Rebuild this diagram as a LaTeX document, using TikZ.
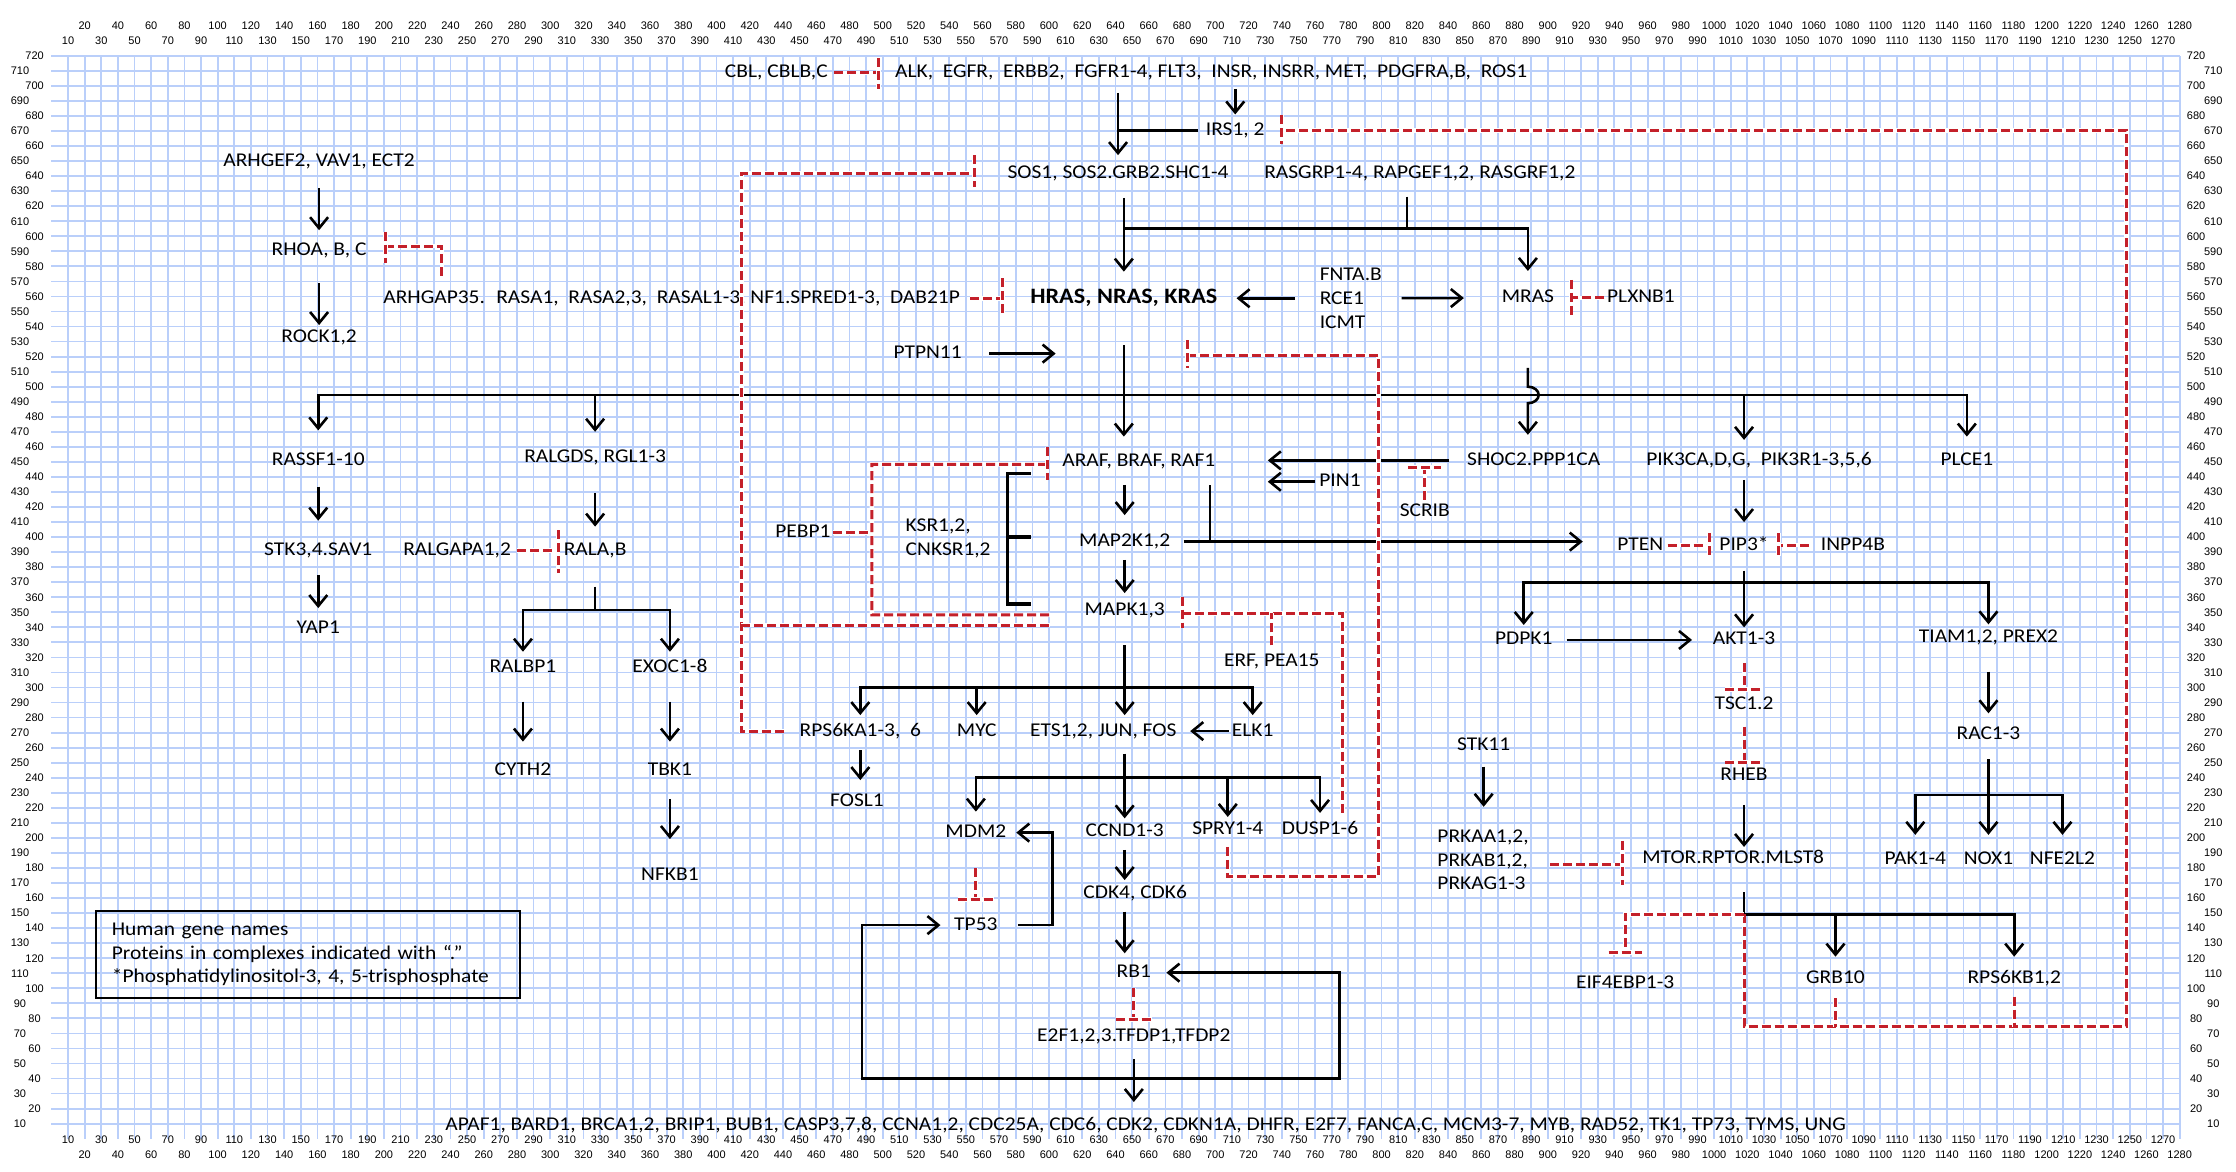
\documentclass[tikz,border=0pt]{standalone}
\usepackage{fontspec}
\setmainfont[FakeStretch=1.1]{Carlito}
\newfontfamily\axisfont{Liberation Sans}
\usetikzlibrary{arrows.meta,calc}

\definecolor{gridblue}{RGB}{186,207,250}
\definecolor{inhred}{RGB}{196,32,42}

\tikzset{
  gene/.style={font=\fontsize{19.5}{23.5}\selectfont, inner sep=0pt, text height=13pt, text depth=3pt},
  mgene/.style={font=\fontsize{19.5}{23.7}\selectfont, inner sep=0pt, align=left},
  bgene/.style={gene, font=\fontsize{22}{26}\selectfont\bfseries},
  axislbl/.style={font=\axisfont\fontsize{11}{13}\selectfont, inner sep=0pt},
  gridln/.style={draw=gridblue, line width=1.8pt},
  ln/.style={line width=2.6pt},
  act/.style={ln, -{Straight Barb[length=11pt,width=18pt]}},
  dact/.style={ln, {Straight Barb[length=11pt,width=18pt]}-{Straight Barb[length=11pt,width=18pt]}},
  brk/.style={line width=3.4pt},
  inh/.style={draw=inhred, line width=3pt, dash pattern=on 9pt off 4pt, preaction={draw=white, solid, line width=4.5pt}},
  legendbox/.style={mgene, draw, line width=2pt, inner xsep=16pt, text width=392pt, minimum height=87.7pt},
}

\begin{document}
\begin{tikzpicture}[x=1.6627pt,y=1.504pt]
\path[use as bounding box, fill=white] (-51.4pt,-33.3pt) rectangle (2184.6pt,1138.7pt);
% grid
\foreach \x in {10,20,...,1280} \draw[gridln] (\x,0) -- (\x,720);
\foreach \y in {10,20,...,720} \draw[gridln] (0,\y) -- (1280,\y);
\foreach \x in {20,40,...,1280} {\node[axislbl] at (\x,739.8) {\x}; \node[axislbl] at (\x,-10.8) {\x};}
\foreach \x in {10,30,...,1270} {\node[axislbl] at (\x,729.8) {\x}; \node[axislbl] at (\x,-0.9) {\x};}
\foreach \y in {20,40,...,720} {\node[axislbl] at (-10.1,\y) {\y}; \node[axislbl] at (1289.9,\y) {\y};}
\foreach \y in {10,30,...,710} {\node[axislbl] at (-18.9,\y) {\y}; \node[axislbl] at (1300.2,\y) {\y};}

% genes
\node[gene] (cbl) at (436,708.6) {CBL, CBLB,C};
\node[gene] (rtk) at (697.5,708.6) {ALK,~ EGFR,~ ERBB2,~ FGFR1-4, FLT3,~ INSR, INSRR, MET,~ PDGFRA,B,~ ROS1};
\node[gene] (irs) at (712,670.5) {IRS1, 2};
\node[gene] (sos) at (641.5,642) {SOS1, SOS2.GRB2.SHC1-4};
\node[gene] (rasgrp) at (823,642) {RASGRP1-4, RAPGEF1,2, RASGRF1,2};
\node[gene] (arhgef) at (161,649.6) {ARHGEF2, VAV1, ECT2};
\node[gene] (rhoa) at (161,590.4) {RHOA, B, C};
\node[gene] (rock) at (161,533) {ROCK1,2};
\node[gene] (arhgap) at (373,558.8) {ARHGAP35.~ RASA1,~ RASA2,3,~ RASAL1-3, NF1.SPRED1-3,~ DAB21P};
\node[bgene] (hras) at (645,558.8) {HRAS, NRAS, KRAS};
\node[mgene, anchor=west] (fnta) at (762.7,558.8) {FNTA.B\\RCE1\\ICMT};
\node[gene] (mras) at (888,559) {MRAS};
\node[gene] (plxnb) at (956,559) {PLXNB1};
\node[gene] (ptpn) at (527,522) {PTPN11};
\node[gene] (rassf) at (160.5,451) {RASSF1-10};
\node[gene] (ralgds) at (327,453) {RALGDS, RGL1-3};
\node[gene] (stk3) at (160.5,391) {STK3,4.SAV1};
\node[gene] (yap) at (160.5,339.5) {YAP1};
\node[gene] (ralgapa) at (244,391) {RALGAPA1,2};
\node[gene] (rala) at (327,391) {RALA,B};
\node[gene] (ralbp) at (283.6,313) {RALBP1};
\node[gene] (exoc) at (372,313) {EXOC1-8};
\node[gene] (cyth) at (283.6,245) {CYTH2};
\node[gene] (tbk) at (372,245) {TBK1};
\node[gene] (nfkb) at (372,175.3) {NFKB1};
\node[gene] (pebp) at (452,403) {PEBP1};
\node[mgene, anchor=west] (ksr) at (513.7,399) {KSR1,2,\\CNKSR1,2};
\node[gene] (araf) at (654,450) {ARAF, BRAF, RAF1};
\node[gene] (map2k) at (645.5,397) {MAP2K1,2};
\node[gene] (mapk) at (645.5,351.5) {MAPK1,3};
\node[gene] (shoc) at (891.5,451) {SHOC2.PPP1CA};
\node[gene] (pin1) at (775,436.8) {PIN1};
\node[gene] (scrib) at (826,417) {SCRIB};
\node[gene] (pik3) at (1027,451) {PIK3CA,D,G,~ PIK3R1-3,5,6};
\node[gene] (plce) at (1152,451) {PLCE1};
\node[gene] (pten) at (955.6,394.7) {PTEN};
\node[gene] (pip3) at (1018,394.7) {PIP3*};
\node[gene] (inpp) at (1083.5,394.7) {INPP4B};
\node[gene] (pdpk) at (885.5,331.6) {PDPK1};
\node[gene] (akt) at (1018,331.6) {AKT1-3};
\node[gene] (tiam) at (1165,333) {TIAM1,2, PREX2};
\node[gene] (erf) at (734,317) {ERF, PEA15};
\node[gene] (rps6ka) at (486.5,271) {RPS6KA1-3,~ 6};
\node[gene] (myc) at (556.5,271) {MYC};
\node[gene] (ets) at (632.6,271) {ETS1,2, JUN, FOS};
\node[gene] (elk) at (722.5,271) {ELK1};
\node[gene] (fosl) at (484.5,224) {FOSL1};
\node[gene] (mdm2) at (556,203.5) {MDM2};
\node[gene] (ccnd) at (645.5,204) {CCND1-3};
\node[gene] (spry) at (707.5,205.3) {SPRY1-4};
\node[gene] (dusp) at (763,205.3) {DUSP1-6};
\node[gene] (tp53) at (556,142) {TP53};
\node[gene] (cdk4) at (651.8,163.2) {CDK4, CDK6};
\node[gene] (rb1) at (651,110.4) {RB1};
\node[gene] (e2f) at (651,67.8) {E2F1,2,3.TFDP1,TFDP2};
\node[gene] (targets) at (658,9.1) {APAF1, BARD1, BRCA1,2, BRIP1, BUB1, CASP3,7,8, CCNA1,2, CDC25A, CDC6, CDK2, CDKN1A, DHFR, E2F7, FANCA,C, MCM3-7, MYB, RAD52, TK1, TP73, TYMS, UNG};
\node[gene] (tsc) at (1018,289) {TSC1.2};
\node[gene] (rheb) at (1018,241.2) {RHEB};
\node[gene] (mtor) at (1011.5,186.4) {MTOR.RPTOR.MLST8};
\node[gene] (stk11) at (861.4,261.3) {STK11};
\node[mgene, anchor=west] (prkaa) at (833.5,185.3) {PRKAA1,2,\\PRKAB1,2,\\PRKAG1-3};
\node[gene] (eif) at (946.5,103.3) {EIF4EBP1-3};
\node[gene] (grb10) at (1073,106.6) {GRB10};
\node[gene] (rps6kb) at (1180.5,106.6) {RPS6KB1,2};
\node[gene] (rac) at (1165,269) {RAC1-3};
\node[gene] (pak) at (1121,185.8) {PAK1-4};
\node[gene] (nox) at (1165,185.8) {NOX1};
\node[gene] (nfe) at (1209.5,185.8) {NFE2L2};
\node[legendbox] (legend) at (154.25,122.45) {Human gene names\\Proteins in complexes indicated with “.”\\{*}Phosphatidylinositol-3, 4, 5-trisphosphate};

% branch points
\coordinate (sosbus) at (645,605.3);
\coordinate (rasbus) at (645,494.5);
\coordinate (ralbus) at (327,351.5);
\coordinate (pipbus) at (1018,369.7);
\coordinate (mapkbus) at (645.5,300);
\coordinate (etsbus) at (645.5,240.3);
\coordinate (mtorbus) at (1018,149.2);
\coordinate (racbus) at (1165,228.5);
\coordinate (loopl) at (487.4,40.2);
\coordinate (loopr) at (774.7,40.2);
\coordinate (fbsos) at (415,341.5);
\coordinate (pebpc) at (493.5,348.2);
\coordinate (spryfb) at (798,174.2);
\coordinate (fbl) at (1018,74.5);
\coordinate (fbr) at (1248,74.5);

% activation
\draw[act, shorten <=20pt, shorten >=18pt] (sos |- rtk) -- (sos.center);
\draw[ln, shorten <=37pt] (irs.center) -- (irs -| sos);
\draw[act, shorten <=16pt, shorten >=15.8pt] (irs |- rtk) -- (irs.center);
\draw[act, shorten <=24.8pt, shorten >=26.6pt] (hras |- sos) -- (hras.center);
\draw[act, shorten >=27pt] (sosbus) -| (mras.center);
\draw[ln, shorten <=23.6pt] ($(rasgrp)+(-7.7,0)$) -- ($(rasgrp |- sosbus)+(-7.7,0)$);
\draw[act, shorten <=24.4pt, shorten >=112.7pt] (fnta.west) -- (hras.center);
\draw[act, shorten <=82pt, shorten >=64pt] (fnta.west) -- (mras.center);
\draw[act, shorten <=61.5pt, shorten >=68.2pt] (ptpn.center) -- (ptpn -| hras);
\draw[act, shorten <=46.8pt, shorten >=25.3pt] (hras.center) -- (hras |- araf);
\draw[act, shorten >=30pt] (rasbus) -| (rassf.center);
\draw[act, shorten >=23.8pt] (rasbus) -| (plce.center);
\draw[act, shorten >=25.6pt] (ralgds |- rasbus) -- (ralgds.center);
\draw[act, shorten >=20.5pt] (pip3 |- rasbus) -- (pip3 |- pik3);
\draw[act, shorten <=70pt, shorten >=25.6pt] (mras.center) -- ($(mras |- rasbus)+(0,5.5)$) arc[start angle=90, end angle=-90, x radius=6.5, y radius=5.5] -- (mras |- shoc);
\draw[act, shorten <=23pt, shorten >=26.5pt] (map2k |- araf) -- (map2k.center);
\draw[act, shorten <=18.3pt, shorten >=17pt] (map2k.center) -- (mapk.center);
\draw[act, shorten <=59pt, shorten >=57.5pt] (map2k.center) -- (map2k -| pten);
\draw[ln] ($(araf)+(42.7,-15.4)$) -- ($(araf |- map2k)+(42.7,0)$);
\draw[brk] (589,442.4) -| (575,355.5) -- (589,355.5);
\draw[brk] (575,400) -- (589,400);
\draw[act, shorten <=84.6pt, shorten >=129pt] (shoc.center) -- (shoc -| araf);
\draw[act, shorten <=25pt, shorten >=129pt] (pin1.center) -- (pin1 -| araf);
\draw[act, shorten <=19.5pt, shorten >=23pt] (pip3 |- pik3) -- (pip3.center);
\draw[ln, shorten <=25.6pt] (pip3.center) -- (pipbus);
\draw[act, shorten >=15pt] (pipbus) -| (pdpk.center);
\draw[act, shorten >=12.6pt] (pipbus) -- (akt.center);
\draw[act, shorten >=13.5pt] (pipbus) -| (tiam.center);
\draw[act, shorten <=43pt, shorten >=52pt] (pdpk.center) -- (akt.center);
\draw[ln, shorten <=35pt] (mapk.center) -- (mapkbus);
\draw[act, shorten >=16pt] (mapkbus) -| (rps6ka.center);
\draw[act, shorten >=16pt] (mapkbus) -| (elk.center);
\draw[act, shorten >=16pt] (mapkbus -| myc) -- (myc.center);
\draw[act, shorten >=16pt] (mapkbus) -- (mapkbus |- ets);
\draw[act, shorten <=19pt, shorten >=21.7pt] (rps6ka.center) -- (rps6ka |- fosl);
\draw[act, shorten <=24pt, shorten >=87pt] (elk.center) -- (ets.center);
\draw[ln, shorten <=22.5pt] (mapkbus |- ets) -- (etsbus);
\draw[act, shorten >=21pt] (etsbus) -| (mdm2.center);
\draw[act, shorten >=17pt] (etsbus) -| (dusp.center);
\draw[act, shorten >=13pt] (etsbus -| spry) -- (spry.center);
\draw[act, shorten >=13.5pt] (etsbus) -- (ccnd.center);
\draw[act, shorten <=18pt, shorten >=13.2pt] (ccnd.center) -- (ccnd |- cdk4);
\draw[act, shorten <=18.3pt, shorten >=19.4pt] (ccnd |- cdk4) -- (ccnd |- rb1);
\draw[act, shorten <=42.6pt, shorten >=40.4pt] (tp53.center) -- ++(46,0) |- (mdm2.center);
\draw[dact, shorten <=35.4pt, shorten >=32.6pt] (tp53.center) -| (loopl) -- (loopr) |- (rb1.center);
\draw[act, shorten <=22.5pt, shorten >=23pt] (e2f.center) -- (e2f |- targets);
\draw[act, shorten <=21pt, shorten >=53.2pt] (stk11.center) -- (stk11 |- prkaa);
\draw[act, shorten <=29pt, shorten >=11.4pt] (rheb.center) -- (rheb |- mtor);
\draw[ln, shorten <=34pt] (rheb |- mtor) -- (mtorbus);
\draw[act, shorten >=21.7pt] (mtorbus) -| (rps6kb.center);
\draw[act, shorten >=21.7pt] (mtorbus -| grb10) -- (grb10.center);
\draw[act, shorten <=33.8pt, shorten >=20.8pt] (tiam.center) -- (rac.center);
\draw[ln, shorten <=25.3pt] (rac.center) -- (racbus);
\draw[act, shorten >=24.4pt] (racbus) -| (pak.center);
\draw[act, shorten >=24.4pt] (racbus) -| (nfe.center);
\draw[act, shorten >=24.4pt] (racbus) -- (nox.center);
\draw[act, shorten <=26.5pt, shorten >=20.5pt] (arhgef.center) -- (rhoa.center);
\draw[act, shorten <=32.6pt, shorten >=12pt] (rhoa.center) -- (rock.center);
\draw[act, shorten <=26.3pt, shorten >=30pt] (rassf.center) -- (stk3.center);
\draw[act, shorten <=24.4pt, shorten >=20pt] (stk3.center) -- (yap.center);
\draw[act, shorten <=36pt, shorten >=24pt] (ralgds.center) -- (rala.center);
\draw[ln, shorten <=36pt] (rala.center) -- (ralbus);
\draw[act, shorten >=16.2pt] (ralbus) -| (ralbp.center);
\draw[act, shorten >=16.2pt] (ralbus) -| (exoc.center);
\draw[act, shorten <=33.7pt, shorten >=28.6pt] (ralbp.center) -- (cyth.center);
\draw[act, shorten <=33.7pt, shorten >=28.6pt] (exoc.center) -- (tbk.center);
\draw[act, shorten <=28.7pt, shorten >=36pt] (tbk.center) -- (nfkb.center);

% inhibition
\draw[inh, shorten <=57.7pt] (cbl.center) -- ($(rtk.west)+(-10,0)$);
\draw[inh] ($(rtk.west)+(-10,10)$) -- ++(0,-21);
\draw[inh] (mtorbus) -- (fbl) -- (fbr) |- ($(irs)+(28,0)$);
\draw[inh] ($(irs)+(28,10)$) -- ++(0,-19);
\draw[inh, shorten <=20pt] (grb10.center) -- (grb10 |- fbl);
\draw[inh, shorten <=18.2pt] (rps6kb.center) -- (rps6kb |- fbl);
\draw[inh] (mtorbus) -| ($(eif)+(0,20.4)$);
\draw[inh] ($(eif)+(-10,20.4)$) -- ++(20,0);
\draw[inh, shorten <=23.5pt] (akt.center) -- ($(tsc)+(0,9.8)$);
\draw[inh] ($(tsc)+(-11.5,9.8)$) -- ++(23,0);
\draw[inh, shorten <=22.6pt] (tsc.center) -- ($(rheb)+(0,9.1)$);
\draw[inh] ($(rheb)+(-11.5,9.1)$) -- ++(23,0);
\draw[inh] ($(prkaa.west)+(68,-3.3)$) -- ($(mtor)+(-66.5,-4.4)$);
\draw[inh] ($(mtor)+(-66.5,11.6)$) -- ++(0,-29.4);
\draw[inh, shorten <=35.6pt] (mdm2.center) -- ($(tp53)+(0,17.2)$);
\draw[inh] ($(tp53)+(-11,17.2)$) -- ++(22,0);
\draw[inh, shorten <=15.6pt] (rb1.center) -- ($(e2f)+(0,11.6)$);
\draw[inh] ($(e2f)+(-11,11.6)$) -- ++(22,0);
\draw[inh, shorten <=27.3pt] (pten.center) -- ($(pip3)+(-21,0)$);
\draw[inh] ($(pip3)+(-21,8)$) -- ++(0,-15);
\draw[inh, shorten <=44pt] (inpp.center) -- ($(pip3)+(20.8,0)$);
\draw[inh] ($(pip3)+(20.8,8)$) -- ++(0,-15);
\draw[inh, shorten <=60pt] (ralgapa.center) -- ($(rala)+(-22.3,0)$);
\draw[inh] ($(rala)+(-22.3,13.6)$) -- ++(0,-28.6);
\draw[inh] ($(arhgap.west)+(35.3,15)$) |- ($(rhoa)+(39.9,3.1)$);
\draw[inh] ($(rhoa)+(39.9,12.6)$) -- ++(0,-20.6);
\draw[inh, shorten <=10pt, shorten >=27.6pt] (arhgap.east) -- (hras.west);
\draw[inh] ($(hras.west)+(-16.6,13.2)$) -- ++(0,-24.3);
\draw[inh, shorten <=36.6pt] (plxnb.center) -- ($(mras)+(26,0)$);
\draw[inh] ($(mras)+(26,12)$) -- ++(0,-24);
\draw[inh, shorten <=76.3pt] (rps6ka.center) -- (rps6ka -| fbsos) |- ($(sos)+(-86.5,0)$);
\draw[inh] ($(sos)+(-86.5,12)$) -- ++(0,-21);
\draw[inh] (fbsos) -- ($(mapk)+(-44.9,-10)$);
\draw[inh, shorten <=30pt] (pebp.center) -- (pebp -| pebpc);
\draw[inh] ($(araf)+(-55.2,-1.6)$) -| (pebpc) -- ($(mapk)+(-44.9,-3.3)$);
\draw[inh] ($(araf)+(-55.2,10)$) -- ++(0,-22);
\draw[inh] ($(mapk)+(34.5,-2.2)$) -| ($(dusp)+(13.5,11.2)$);
\draw[inh, shorten <=16.5pt] (erf.center) -- ($(erf |- mapk)+(0,-2.2)$);
\draw[inh] ($(mapk)+(34.5,8.9)$) -- ++(0,-20.9);
\draw[inh, shorten <=17pt] (spry.center) |- (spryfb) |- ($(hras)+(38.4,-37.8)$);
\draw[inh] ($(hras)+(38.4,-27.8)$) -- ++(0,-18.6);
\draw[inh, shorten <=11.6pt] (scrib.center) -- ($(scrib)+(0,29.4)$);
\draw[inh] ($(scrib)+(-10,29.4)$) -- ++(20,0);
\end{tikzpicture}
\end{document}
